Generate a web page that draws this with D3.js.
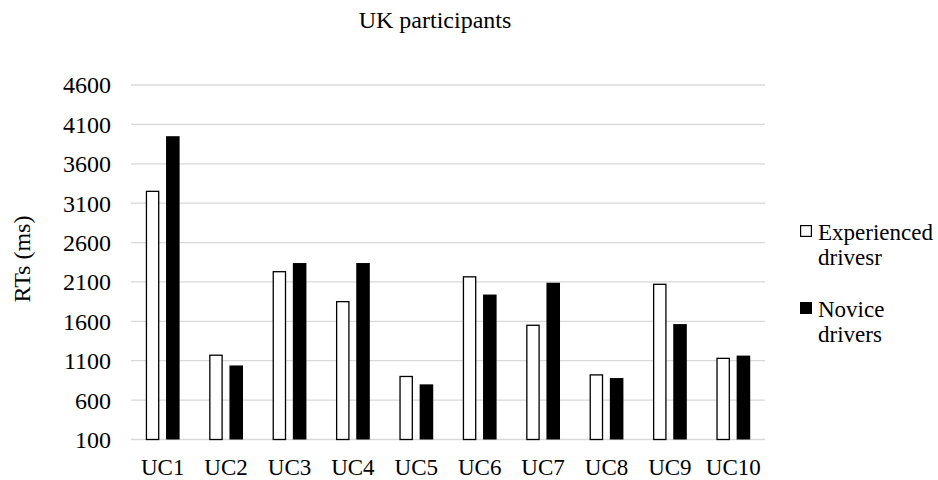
<!DOCTYPE html>
<html>
<head>
<meta charset="utf-8">
<script src="https://cdn.jsdelivr.net/npm/d3@7"></script>
<style>
  body { margin: 0; background: #fff; }
  text { font-family: "Liberation Serif", "Times New Roman", serif; fill: #000; }
</style>
</head>
<body>
<div id="chart"><svg></svg></div>
<script>
// data
const categories = ["UC1", "UC2", "UC3", "UC4", "UC5", "UC6", "UC7", "UC8", "UC9", "UC10"];
const experienced = [3250, 1170, 2230, 1850, 900, 2165, 1550, 920, 2070, 1130];
const novice = [3950, 1040, 2340, 2340, 800, 1940, 2090, 880, 1565, 1165];
const yTicks = [100, 600, 1100, 1600, 2100, 2600, 3100, 3600, 4100, 4600];
const seriesNames = ["Experienced drivesr", "Novice drivers"];

const w = 938, h = 480;
const plotLeft = 131, plotRight = 765, plotTop = 85, plotBottom = 439.5;

const svg = d3.select("#chart svg")
  .attr("width", w)
  .attr("height", h);

const x0 = d3.scaleBand()
  .domain(categories)
  .range([plotLeft, plotRight]);

const x1 = d3.scaleBand()
  .domain(["exp", "nov"])
  .range([0, x0.bandwidth()])
  .paddingInner(0.33)
  .paddingOuter(0.73);

const y = d3.scaleLinear()
  .domain([100, 4600])
  .range([plotBottom, plotTop]);

// gridlines
svg.append("g")
  .selectAll("line")
  .data(yTicks)
  .join("line")
  .attr("x1", plotLeft)
  .attr("x2", plotRight)
  .attr("y1", d => y(d))
  .attr("y2", d => y(d))
  .attr("stroke", "#d9d9d9")
  .attr("stroke-width", 1.3);

// y tick labels
svg.append("g")
  .selectAll("text")
  .data(yTicks)
  .join("text")
  .attr("x", 111)
  .attr("y", d => y(d))
  .attr("dy", "0.35em")
  .attr("text-anchor", "end")
  .style("font-size", "24px")
  .text(d => d);

// bars
const rows = categories.map((c, i) => ({ c, exp: experienced[i], nov: novice[i] }));
const groups = svg.append("g")
  .selectAll("g")
  .data(rows)
  .join("g")
  .attr("transform", d => `translate(${x0(d.c)},0)`);

groups.append("rect")
  .attr("x", x1("exp") + 0.65)
  .attr("width", x1.bandwidth() - 1.3)
  .attr("y", d => y(d.exp))
  .attr("height", d => y(100) - y(d.exp))
  .attr("fill", "#fff")
  .attr("stroke", "#000")
  .attr("stroke-width", 1.3);

groups.append("rect")
  .attr("x", x1("nov"))
  .attr("width", x1.bandwidth())
  .attr("y", d => y(d.nov))
  .attr("height", d => y(100) - y(d.nov))
  .attr("fill", "#000");

// x labels
svg.append("g")
  .selectAll("text")
  .data(categories)
  .join("text")
  .attr("x", d => x0(d) + x0.bandwidth() / 2)
  .attr("y", 475)
  .attr("text-anchor", "middle")
  .style("font-size", "23px")
  .text(d => d);

// title
svg.append("text")
  .attr("x", 435)
  .attr("y", 28)
  .attr("text-anchor", "middle")
  .style("font-size", "24px")
  .text("UK participants");

// y axis title
svg.append("text")
  .attr("transform", "translate(30,259) rotate(-90)")
  .attr("text-anchor", "middle")
  .style("font-size", "24px")
  .text("RTs (ms)");

// legend
const legend = svg.append("g")
  .selectAll("g")
  .data(seriesNames)
  .join("g")
  .attr("transform", (d, i) => `translate(800,${225 + i * 77})`);

legend.append("rect")
  .attr("x", 0.6)
  .attr("y", 0.6)
  .attr("width", 10.8)
  .attr("height", 10.8)
  .attr("fill", (d, i) => i === 0 ? "#fff" : "#000")
  .attr("stroke", "#000")
  .attr("stroke-width", 1.2);

legend.append("text")
  .attr("x", 18)
  .attr("y", 15)
  .style("font-size", "23px")
  .selectAll("tspan")
  .data(d => d.split(" "))
  .join("tspan")
  .attr("x", 18)
  .attr("dy", (d, i) => i === 0 ? 0 : 25)
  .text(d => d);
</script>
</body>
</html>
